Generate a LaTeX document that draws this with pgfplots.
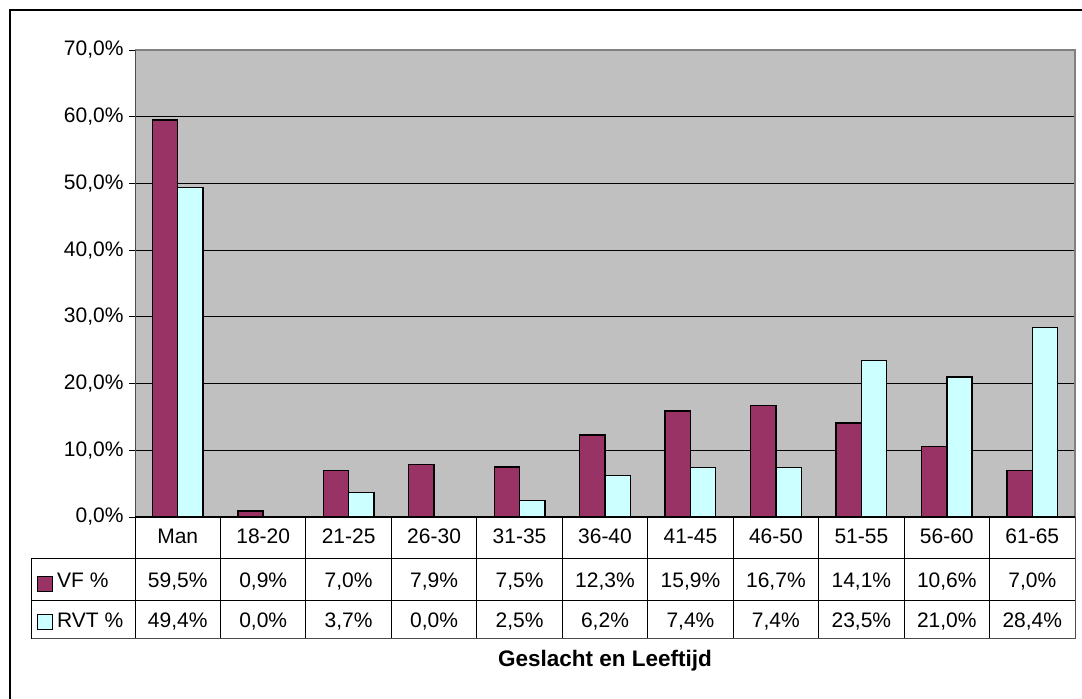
\documentclass[border=0pt]{standalone}
\usepackage{fontspec}
\setmainfont{Liberation Sans}
\usepackage{pgfplots}
\pgfplotsset{compat=1.18}
\definecolor{vf}{HTML}{993366}
\definecolor{rvt}{HTML}{CCFFFF}
\definecolor{bg}{HTML}{C0C0C0}
\definecolor{frame}{HTML}{808080}
\begin{document}
\begin{tikzpicture}[x=1pt,y=1pt]
\path[use as bounding box] (0,0) rectangle (1082,699);
\fill[white] (0,0) rectangle (1082,699);
\draw[line width=1.2pt] (10,0) -- (10,689) -- (1082,689);
\begin{axis}[
  at={(135pt,182pt)}, anchor=south west,
  width=940pt, height=467pt, scale only axis,
  xmin=-0.5, xmax=10.5, ymin=0, ymax=70,
  xtick=\empty,
  ytick={0,10,20,30,40,50,60,70},
  yticklabels={{0,0\%},{10,0\%},{20,0\%},{30,0\%},{40,0\%},{50,0\%},{60,0\%},{70,0\%}},
  ytick pos=left,
  tick align=outside, major tick length=6pt,
  ytick style={black, line width=0.8pt},
  yticklabel style={font=\fontsize{21}{25}\selectfont, xshift=-2pt},
  ymajorgrids, grid style={black, line width=0.9pt},
  axis background/.style={fill=bg},
  axis line style={draw=none},
  clip=false,
]
\addplot[ybar, bar width=0.296, bar shift=-0.148, fill=vf, draw=black, line width=1.4pt]
  coordinates {(0,59.5) (1,0.9) (2,7.0) (3,7.9) (4,7.5) (5,12.3) (6,15.9) (7,16.7) (8,14.1) (9,10.6) (10,7.0)};
\addplot[ybar, bar width=0.296, bar shift=0.148, fill=rvt, draw=black, line width=1.4pt]
  coordinates {(0,49.4) (2,3.7) (4,2.5) (5,6.2) (6,7.4) (7,7.4) (8,23.5) (9,21.0) (10,28.4)};
\end{axis}
% plot area border
\draw[frame, line width=1.6pt] (135,649) -- (1075,649) -- (1075,182);
\draw[black!70, line width=1pt] (135,182) -- (135,649);
% data table
\begin{scope}[line width=1pt]
\foreach \k in {1,...,10} \draw ({135+85.4545*\k},182) -- ({135+85.4545*\k},60);
\draw (135,182) -- (135,60);
\draw[frame!60!black] (1075,182) -- (1075,60);
\draw (135,182) -- (1075,182);
\draw (31,140) -- (1075,140);
\draw (31,98) -- (1075,98);
\draw[frame!60!black] (31,60) -- (1075,60);
\draw (31,140) -- (31,60);
\end{scope}
\begin{scope}[every node/.style={font=\fontsize{21}{25}\selectfont, inner sep=0pt, anchor=base}]
\foreach \n [count=\i from 0] in {Man,18-20,21-25,26-30,31-35,36-40,41-45,46-50,51-55,56-60,61-65}
  \node at ({135+85.4545*(\i+0.5)},155.7) {\n};
\foreach \n [count=\i from 0] in {{59,5\%},{0,9\%},{7,0\%},{7,9\%},{7,5\%},{12,3\%},{15,9\%},{16,7\%},{14,1\%},{10,6\%},{7,0\%}}
  \node at ({135+85.4545*(\i+0.5)},111.7) {\n};
\foreach \n [count=\i from 0] in {{49,4\%},{0,0\%},{3,7\%},{0,0\%},{2,5\%},{6,2\%},{7,4\%},{7,4\%},{23,5\%},{21,0\%},{28,4\%}}
  \node at ({135+85.4545*(\i+0.5)},71.7) {\n};
\node[anchor=base west] at (57,111.7) {VF \%};
\node[anchor=base west] at (57,71.7) {RVT \%};
\end{scope}
\draw[fill=vf, line width=1pt] (37,107.5) rectangle (52,122.5);
\draw[fill=rvt, line width=1pt] (37,69) rectangle (52,84);
\node[font=\bfseries\fontsize{22.5}{27}\selectfont, anchor=base, inner sep=0pt] at (605,32.3) {Geslacht en Leeftijd};
\end{tikzpicture}
\end{document}
